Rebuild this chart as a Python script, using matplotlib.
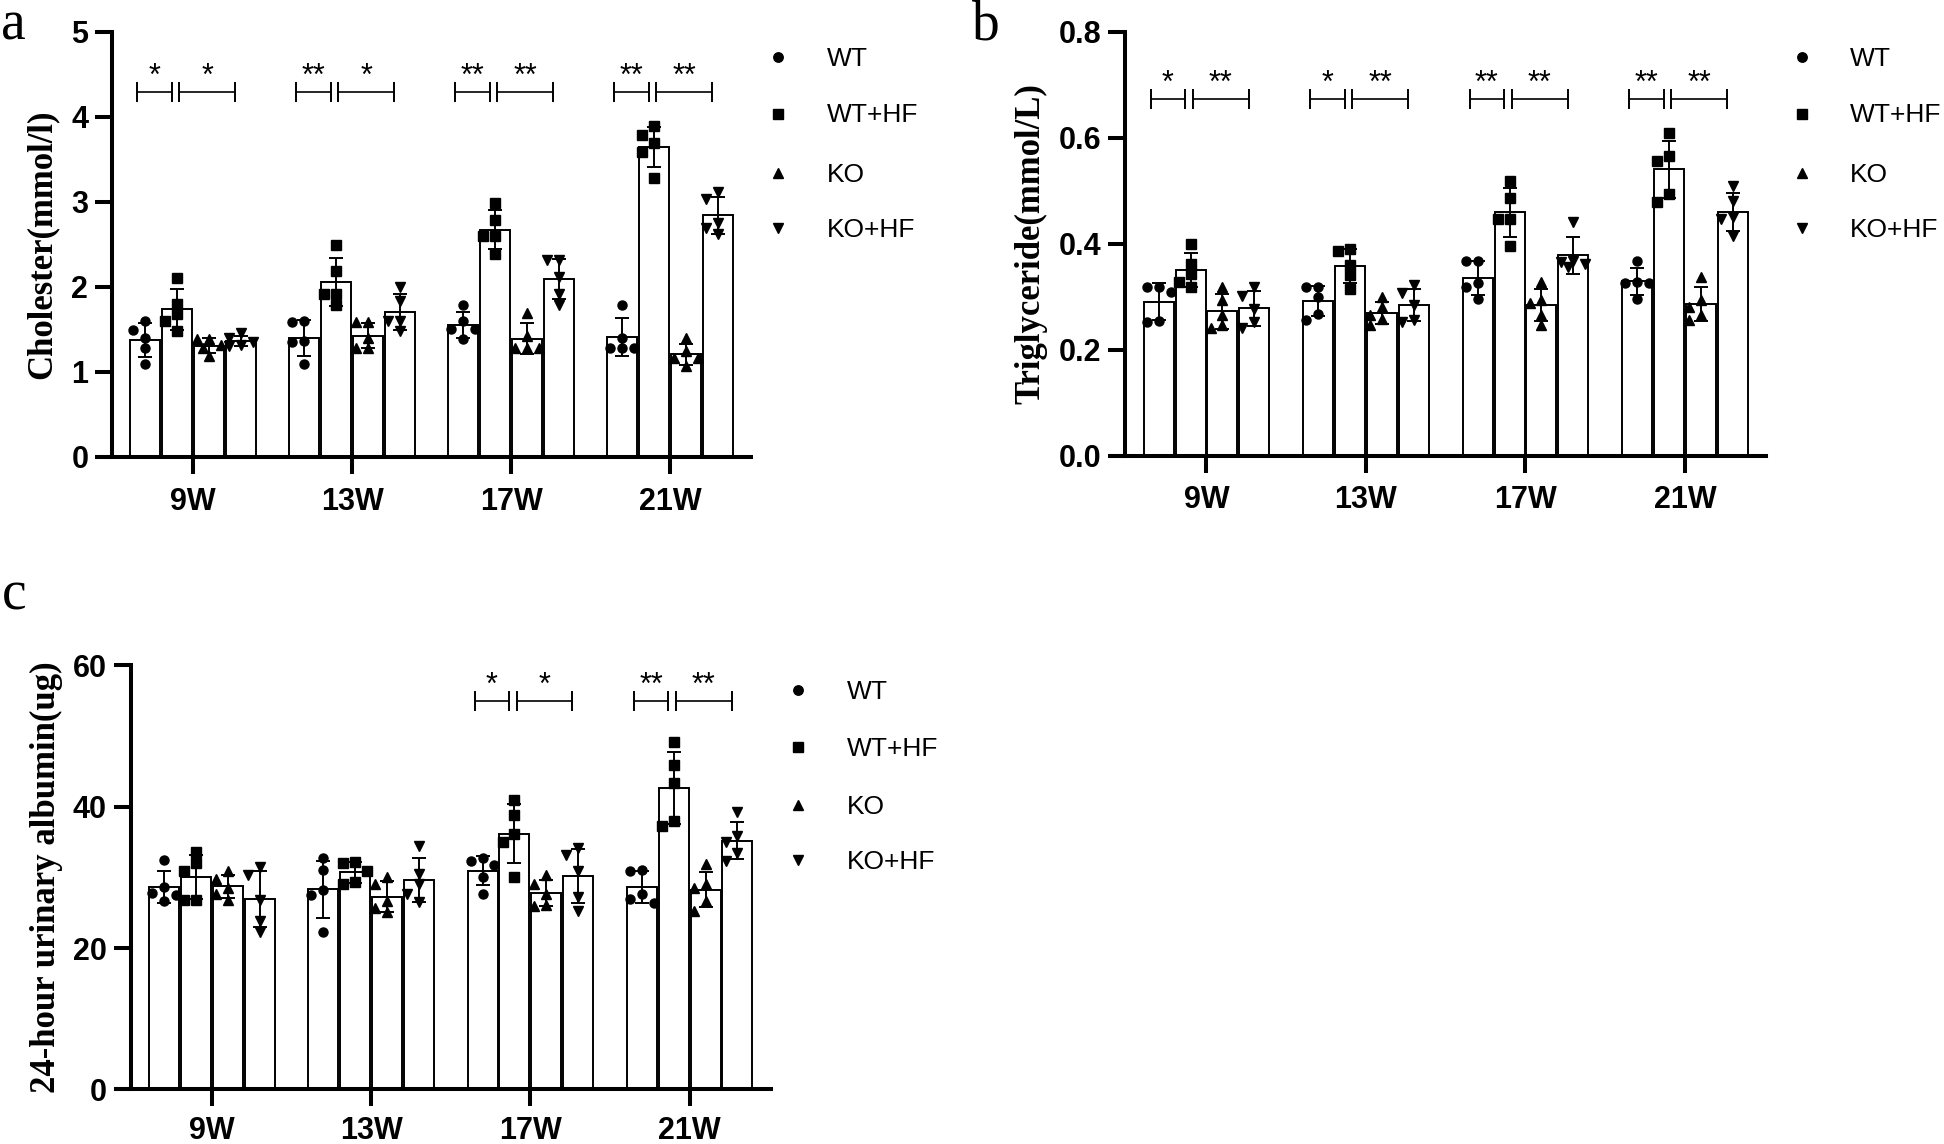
import numpy as np
import matplotlib
matplotlib.use("Agg")
import matplotlib.pyplot as plt
from matplotlib.lines import Line2D

# ---------------- data ----------------
weeks = ["9W", "13W", "17W", "21W"]
groups = ["WT", "WT+HF", "KO", "KO+HF"]
markers = ["o", "s", "^", "v"]

# Panel a: Cholesterol (mmol/l), 5 animals per group per week
chol_wt = [[1.49, 1.28, 1.60, 1.09, 1.40], [1.60, 1.58, 1.36, 1.09, 1.35],
           [1.79, 1.60, 1.50, 1.50, 1.38], [1.79, 1.40, 1.28, 1.28, 1.28]]
chol_wthf = [[2.10, 1.68, 1.60, 1.80, 1.48], [2.49, 2.19, 1.91, 1.91, 1.78],
             [2.99, 2.79, 2.60, 2.60, 2.38], [3.89, 3.79, 3.69, 3.58, 3.28]]
chol_ko = [[1.38, 1.28, 1.18, 1.32, 1.38], [1.58, 1.58, 1.40, 1.28, 1.28],
           [1.69, 1.42, 1.28, 1.28, 1.28], [1.40, 1.24, 1.16, 1.16, 1.07]]
chol_kohf = [[1.45, 1.40, 1.30, 1.35, 1.32], [2.00, 1.83, 1.60, 1.60, 1.48],
             [2.32, 2.32, 2.11, 1.91, 1.79], [3.11, 3.03, 2.75, 2.69, 2.62]]

# Panel b: Triglyceride (mmol/L)
tg_wt = [[0.319, 0.319, 0.309, 0.252, 0.254], [0.318, 0.318, 0.299, 0.268, 0.255],
         [0.368, 0.368, 0.326, 0.319, 0.296], [0.368, 0.327, 0.326, 0.326, 0.296]]
tg_wthf = [[0.400, 0.362, 0.343, 0.327, 0.318], [0.390, 0.386, 0.359, 0.340, 0.315],
           [0.519, 0.487, 0.447, 0.447, 0.396], [0.608, 0.566, 0.556, 0.494, 0.478]]
tg_ko = [[0.318, 0.293, 0.265, 0.246, 0.240], [0.299, 0.280, 0.265, 0.246, 0.258],
         [0.327, 0.293, 0.287, 0.265, 0.246], [0.337, 0.293, 0.280, 0.255, 0.265]]
tg_kohf = [[0.319, 0.302, 0.277, 0.252, 0.240], [0.321, 0.306, 0.284, 0.255, 0.252],
           [0.440, 0.368, 0.365, 0.362, 0.356], [0.509, 0.481, 0.450, 0.447, 0.415]]

# Panel c: 24-hour urinary albumin (ug)
alb_wt = [[32.5, 27.8, 27.5, 28.6, 26.6], [32.7, 31.1, 27.5, 28.2, 22.2],
          [32.8, 32.3, 31.7, 30.1, 27.7], [31.1, 30.9, 27.7, 26.9, 26.4]]
alb_wthf = [[33.6, 32.1, 30.9, 26.8, 26.8], [32.2, 32.1, 30.9, 29.3, 29.0],
            [41.0, 38.8, 36.1, 35.0, 30.1], [49.1, 45.9, 43.3, 38.0, 37.2]]
alb_ko = [[30.9, 29.8, 28.5, 27.7, 26.8], [30.1, 29.0, 26.6, 25.6, 25.1],
          [30.3, 29.0, 27.7, 26.1, 25.9], [31.9, 29.0, 28.5, 26.6, 25.3]]
alb_kohf = [[31.4, 30.3, 26.8, 23.8, 22.2], [34.4, 30.5, 29.0, 27.7, 26.5],
            [34.2, 33.2, 30.9, 27.2, 25.3], [39.2, 35.8, 35.0, 33.5, 32.3]]

# significance annotations (per week: [WT vs WT+HF, second comparison])
sig_a = [["*", "*"], ["**", "*"], ["**", "**"], ["**", "**"]]
sig_b = [["*", "**"], ["*", "**"], ["**", "**"], ["**", "**"]]
sig_c = [["", ""], ["", ""], ["*", "*"], ["**", "**"]]
sig_level_a = 4.29
sig_level_b = 0.673
sig_level_c = 55.0

ylab_a = "Cholester(mmol/l)"
ylab_b = "Triglyceride(mmol/L)"
ylab_c = "24-hour urinary albumin(ug)"
yticks_a = [0, 1, 2, 3, 4, 5]
yticks_b = [0.0, 0.2, 0.4, 0.6, 0.8]
yticks_c = [0, 20, 40, 60]

# ---------------- style ----------------
W, H = 1944, 1144
SANS = ["Liberation Sans", "DejaVu Sans"]
SERIF = ["Liberation Serif", "DejaVu Serif"]
AX_LW = 2.9
BAR_W = 0.188
SLOT = 0.2

fig = plt.figure(figsize=(W / 100, H / 100), dpi=100)


def px_axes(x0, x1, ytop, ybot):
    return fig.add_axes([x0 / W, 1 - ybot / H, (x1 - x0) / W, (ybot - ytop) / H])


def swarm_offsets(ax, vals, diam_px):
    t = ax.transData
    p0 = t.transform((0, 0))
    p1 = t.transform((1, 1))
    xpp = p1[0] - p0[0]
    ypp = p1[1] - p0[1]
    order = np.argsort(vals)[::-1]
    placed = []
    offs = np.zeros(len(vals))
    cands = [0, -1.25, 1.25, -0.6, 0.6]
    for i in order:
        y = vals[i] * ypp
        best, bestd = 0.0, -1
        for c in cands:
            x = c * diam_px
            d = min([np.hypot(x - px, y - py) for px, py in placed] + [1e9])
            if d >= diam_px:
                best = x
                break
            if d > bestd:
                best, bestd = x, d
        placed.append((best, y))
        offs[i] = best / xpp
    return offs


def panel(ax, data_sets, ylim, yticks, ylabel, sig, sig_level, label_x,
          fmt=None, xpad=9):
    ax.set_xlim(-0.6, 3.51)
    ax.set_ylim(*ylim)
    xc = np.arange(len(weeks))
    for g, (vals, m) in enumerate(zip(data_sets, markers)):
        arr = np.array(vals, dtype=float)
        means = arr.mean(axis=1)
        sds = arr.std(axis=1, ddof=1)
        x = xc + (g - 1.5) * SLOT
        ax.bar(x, means, width=BAR_W, facecolor="white", edgecolor="black",
               linewidth=1.4, zorder=2)
        ax.errorbar(x, means, yerr=sds, fmt="none", ecolor="black",
                    elinewidth=1.4, capsize=5.3, capthick=1.4, zorder=3)
        for w in range(len(weeks)):
            offs = swarm_offsets(ax, arr[w], 9.5)
            ax.plot(x[w] + offs, arr[w], ls="none", marker=m, color="black",
                    ms=6.5, zorder=4, clip_on=False)
    # significance brackets
    for w, pair in enumerate(sig):
        spans = [(w - 0.35, w - 0.134), (w - 0.087, w + 0.264)]
        for s, (a, b) in zip(pair, spans):
            if not s:
                continue
            ax.plot([a, b], [sig_level, sig_level], color="black", lw=1.2,
                    zorder=5, solid_capstyle="butt")
            ax.plot([a, b], [sig_level, sig_level], ls="none", marker="|",
                    ms=13.7, mew=1.4, color="black", zorder=5)
            ax.annotate(s, xy=((a + b) / 2, sig_level), xytext=(0, 5),
                        textcoords="offset points", ha="center", va="baseline",
                        fontsize=22, family=SANS)
    # axes styling
    for sp in ("top", "right"):
        ax.spines[sp].set_visible(False)
    ax.spines["left"].set_position(("data", -0.51))
    ax.spines["left"].set_linewidth(AX_LW)
    ax.spines["bottom"].set_linewidth(AX_LW)
    ax.set_xticks(xc)
    ax.set_xticklabels(weeks)
    ax.set_yticks(yticks)
    if fmt:
        ax.set_yticklabels([fmt.format(v) for v in yticks])
    ax.tick_params(axis="both", direction="out", length=12.5, width=AX_LW)
    ax.tick_params(axis="y", pad=4.5)
    ax.tick_params(axis="x", pad=xpad)
    for lab in ax.get_xticklabels() + ax.get_yticklabels():
        lab.set_fontfamily(SANS)
        lab.set_fontweight("bold")
        lab.set_fontsize(22)
    ax.set_ylabel(ylabel, family=SERIF, fontweight="bold", fontsize=25)
    ax.yaxis.set_label_coords(label_x, 0.5)


ax_a = px_axes(97.6, 751.1, 31.7, 456.7)
panel(ax_a, [chol_wt, chol_wthf, chol_ko, chol_kohf], (0, 5), yticks_a, ylab_a,
      sig_a, sig_level_a, -0.060)

ax_b = px_axes(1110.8, 1766.3, 31.7, 455.5)
panel(ax_b, [tg_wt, tg_wthf, tg_ko, tg_kohf], (0, 0.8), yticks_b, ylab_b,
      sig_b, sig_level_b, -0.0965, fmt="{:.1f}")

ax_c = px_axes(116.2, 770.9, 665.4, 1089.3)
panel(ax_c, [alb_wt, alb_wthf, alb_ko, alb_kohf], (0, 60), yticks_c, ylab_c,
      sig_c, sig_level_c, -0.081, xpad=7)


# legends (drawn manually in figure pixel space)
def legend(xm, xt, rows):
    for name, m, yr in zip(groups, markers, rows):
        fig.add_artist(Line2D([xm / W], [1 - yr / H], marker=m, ls="none",
                              color="black", ms=6.8, transform=fig.transFigure))
        fig.text(xt / W, 1 - (yr + 9) / H, name, fontsize=19, family=SANS,
                 ha="left", va="baseline")


legend(778, 827, [56.7, 113.5, 172.7, 228])
legend(1801.7, 1850, [56.7, 113.5, 172.7, 228])
legend(798, 847, [690, 746.7, 805, 860])

# panel letters
for txt, x, y in [("a", 1, 40), ("b", 972, 40), ("c", 2, 610)]:
    fig.text(x / W, 1 - y / H, txt, fontsize=40, family=SERIF, ha="left",
             va="baseline")

fig.savefig("out.png", dpi=100)
